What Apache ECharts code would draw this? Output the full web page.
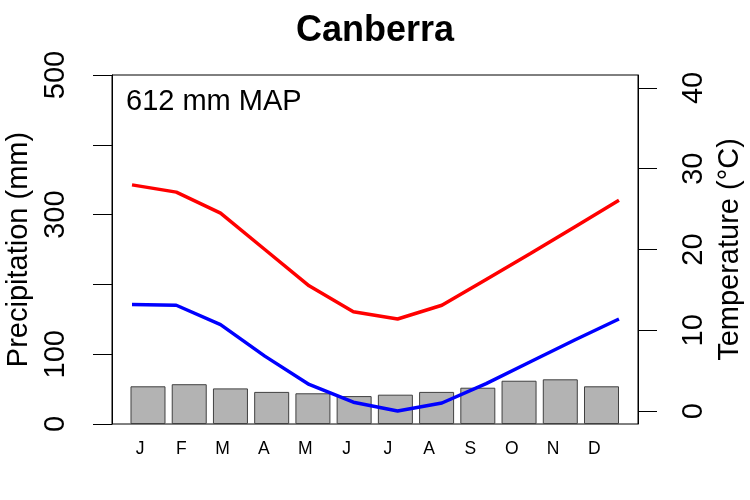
<!DOCTYPE html>
<html>
<head>
<meta charset="utf-8">
<script src="https://cdn.jsdelivr.net/npm/echarts@6/dist/echarts.min.js"></script>
<style>html,body{margin:0;padding:0;background:#fff}#c{width:750px;height:500px}</style>
</head>
<body>
<div id="c"></div>
<script>
// ---- data ----
var months = ['J','F','M','A','M','J','J','A','S','O','N','D'];
var precip = [54, 57, 51, 46, 44, 40, 42, 46, 52, 62, 64, 54];        // mm
var tmax   = [28.0, 27.1, 24.5, 20.0, 15.5, 12.3, 11.4, 13.1, 16.3, 19.5, 22.8, 26.1];
var tmin   = [13.2, 13.1, 10.7, 6.8, 3.3, 1.1, 0.0, 1.0, 3.4, 6.1, 8.8, 11.4];
var precipTicks = [0, 100, 200, 300, 400, 500];
var precipTickLabels = [0, 100, 300, 500];
var tempTicks = [0, 10, 20, 30, 40];
var stationName = 'Canberra';

var FONT = '"Liberation Sans", Arial, Helvetica, sans-serif';
var totalP = precip.reduce(function(a, b){ return a + b; }, 0);

var chart = echarts.init(document.getElementById('c'), null, {renderer: 'canvas'});
var idx = function(arr){ return arr.map(function(v, i){ return [i, v]; }); };

chart.setOption({
  animation: false,
  backgroundColor: '#fff',
  textStyle: {fontFamily: FONT},
  title: {
    text: stationName,
    left: 'center',
    top: 13,
    padding: 0,
    textStyle: {fontFamily: FONT, fontSize: 36, fontWeight: 'bold', color: '#000'}
  },
  graphic: [{
    type: 'text',
    left: 126,
    top: 87,
    style: {text: totalP + ' mm MAP', fontFamily: FONT, fontSize: 29, fill: '#000'}
  }],
  grid: {
    left: 112, right: 112, top: 75, bottom: 76,
    outerBoundsMode: 'none', containLabel: false,
    show: true, borderColor: '#000', borderWidth: 1, backgroundColor: 'transparent'
  },
  xAxis: [
    { // bars
      type: 'value', min: -0.873, max: 11.885, show: false
    },
    { // temperature lines
      type: 'value', min: -0.452, max: 11.43, show: false
    },
    { // month labels
      type: 'value', min: -0.678, max: 12.058, position: 'bottom',
      axisLine: {show: false}, axisTick: {show: false}, splitLine: {show: false},
      axisLabel: {
        customValues: months.map(function(m, i){ return i; }),
        formatter: function(v){ return months[v]; },
        fontFamily: FONT, fontSize: 17.5, color: '#000', margin: 16
      }
    }
  ],
  yAxis: [
    {
      type: 'value', position: 'left', min: 0, max: 500, interval: 100,
      name: 'Precipitation (mm)', nameLocation: 'middle', nameRotate: 90, nameGap: 70,
      nameTextStyle: {fontFamily: FONT, fontSize: 29, color: '#000'},
      axisLine: {show: true, onZero: false, lineStyle: {color: '#000', width: 1}},
      axisTick: {show: true, length: 19, lineStyle: {color: '#000', width: 1}, customValues: precipTicks},
      axisLabel: {
        customValues: precipTickLabels, rotate: 90, margin: 42,
        fontFamily: FONT, fontSize: 29, color: '#000'
      },
      splitLine: {show: false}
    },
    {
      type: 'value', position: 'right', min: -1.6, max: 41.6,
      name: 'Temperature (\u00B0C)', nameLocation: 'middle', nameRotate: 90, nameGap: 75,
      nameTextStyle: {fontFamily: FONT, fontSize: 29, color: '#000'},
      axisLine: {show: true, onZero: false, lineStyle: {color: '#000', width: 1}},
      axisTick: {show: true, length: 19, lineStyle: {color: '#000', width: 1}, customValues: tempTicks},
      axisLabel: {
        customValues: tempTicks, rotate: 90, margin: 41,
        fontFamily: FONT, fontSize: 29, color: '#000'
      },
      splitLine: {show: false}
    }
  ],
  series: [
    {
      type: 'bar', name: 'Precipitation', xAxisIndex: 0, yAxisIndex: 0,
      data: idx(precip), barWidth: 35,
      itemStyle: {color: '#B3B3B3', borderColor: '#404040', borderWidth: 1}
    },
    {
      type: 'line', name: 'Tmax', xAxisIndex: 1, yAxisIndex: 1,
      data: idx(tmax), symbol: 'none', z: 5,
      lineStyle: {color: '#FF0000', width: 3.5}, itemStyle: {color: '#FF0000'}
    },
    {
      type: 'line', name: 'Tmin', xAxisIndex: 1, yAxisIndex: 1,
      data: idx(tmin), symbol: 'none', z: 5,
      lineStyle: {color: '#0000FF', width: 3.5}, itemStyle: {color: '#0000FF'}
    }
  ]
});
</script>
</body>
</html>
